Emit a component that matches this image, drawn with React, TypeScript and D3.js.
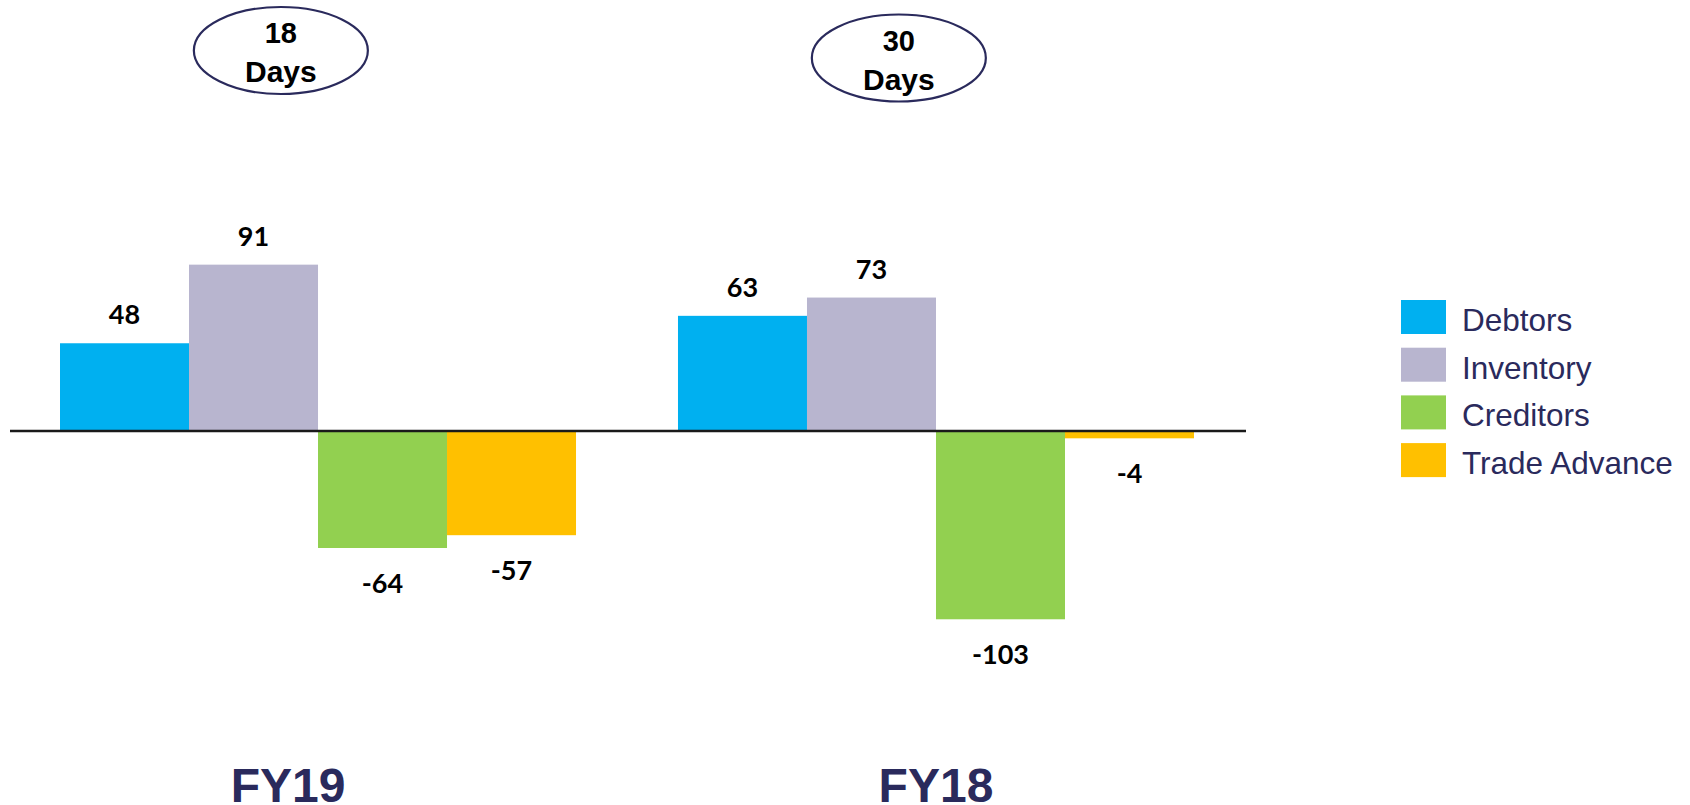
import React from "react";
import * as d3 from "d3";

const categories = ["FY19", "FY18"];
const seriesNames = ["Debtors", "Inventory", "Creditors", "Trade Advance"];
const debtors = [48, 63];
const inventory = [91, 73];
const creditors = [-64, -103];
const tradeAdvance = [-57, -4];
const daysLabels = ["18", "30"];
const colors = ["#00B0F0", "#B8B5CF", "#92D050", "#FFC000"];

const W = 1690;
const H = 805;
const NAVY = "#2A2A5C";

export default function App() {
  const values = [debtors, inventory, creditors, tradeAdvance];
  const x0 = d3.scaleBand<string>().domain(categories).range([11, 1243]).paddingInner(0.165).paddingOuter(0.0793);
  const x1 = d3.scaleBand<string>().domain(seriesNames).range([0, x0.bandwidth()]).padding(0);
  const zeroY = 431;
  const pxPerUnit = 1.828;
  const y = d3.scaleLinear().domain([-130, 100]).range([zeroY + 130 * pxPerUnit, zeroY - 100 * pxPerUnit]);

  const ellipseCy = [50.5, 58];
  const fyDx = [-30, 0];

  const legend = d3.scaleBand<string>().domain(seriesNames).range([300, 300 + 4 * 47.7]);

  return (
    <div style={{ position: "absolute", left: 0, top: 0 }}>
      <svg width={W} height={H} style={{ display: "block", background: "#fff" }}>
        {categories.map((c, i) => (
          <g key={c}>
            {seriesNames.map((s, j) => {
              const v = values[j][i];
              const bx = (x0(c) ?? 0) + (x1(s) ?? 0);
              const bw = x1.bandwidth();
              const top = Math.min(y(v), y(0));
              const h = Math.abs(y(v) - y(0));
              return (
                <g key={s}>
                  <rect x={bx} y={top} width={bw} height={h} fill={colors[j]} />
                  <text
                    x={bx + bw / 2}
                    y={v >= 0 ? y(v) - 19 : y(v) + 45}
                    textAnchor="middle"
                    fontFamily="Lato, 'Open Sans', sans-serif"
                    fontWeight={700}
                    fontSize={27}
                    fill="#000"
                  >
                    {v}
                  </text>
                </g>
              );
            })}
          </g>
        ))}
        <line x1={10} x2={1246} y1={y(0)} y2={y(0)} stroke="#1a1a1a" strokeWidth={2.5} />

        {categories.map((c, i) => {
          const cx = (x0(c) ?? 0) + x0.bandwidth() * 0.428;
          const cy = ellipseCy[i];
          return (
            <g key={"e" + c}>
              <ellipse cx={cx} cy={cy} rx={87} ry={43.5} fill="#fff" stroke={NAVY} strokeWidth={2.2} />
              <text x={cx} y={cy - 7.5} textAnchor="middle" fontFamily="'Liberation Sans', Arial, sans-serif" fontWeight={700} fontSize={29} fill="#000">
                {daysLabels[i]}
              </text>
              <text x={cx} y={cy + 31.5} textAnchor="middle" fontFamily="'Liberation Sans', Arial, sans-serif" fontWeight={700} fontSize={30} fill="#000">
                Days
              </text>
            </g>
          );
        })}

        {categories.map((c, i) => (
          <text
            key={"fy" + c}
            x={(x0(c) ?? 0) + x0.bandwidth() / 2 + fyDx[i]}
            y={802}
            textAnchor="middle"
            fontFamily="'Liberation Sans', Arial, sans-serif"
            fontWeight={700}
            fontSize={48}
            fill={NAVY}
          >
            {c}
          </text>
        ))}

        {seriesNames.map((s, j) => {
          const ly = legend(s) ?? 0;
          return (
            <g key={"l" + s}>
              <rect x={1401} y={ly} width={45} height={34} fill={colors[j]} />
              <text x={1462} y={ly + 31} fontFamily="'Liberation Sans', Arial, sans-serif" fontSize={31.5} fill={NAVY}>
                {s}
              </text>
            </g>
          );
        })}
      </svg>
    </div>
  );
}
